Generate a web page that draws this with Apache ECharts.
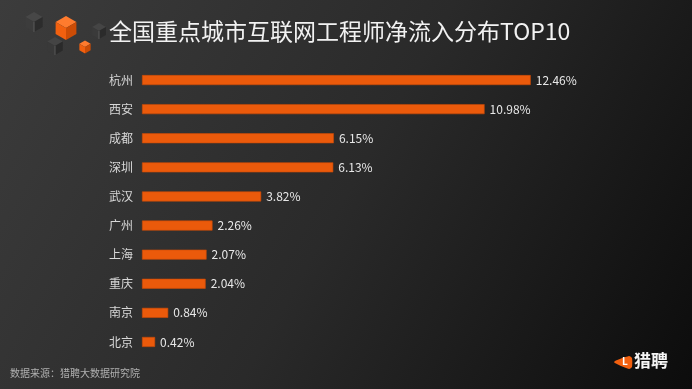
<!DOCTYPE html>
<html>
<head>
<meta charset="utf-8">
<script src="https://cdn.jsdelivr.net/npm/echarts@6/dist/echarts.min.js"></script>
<style>
html,body{margin:0;padding:0;background:#222;}
#main{width:692px;height:389px;}
</style>
</head>
<body>
<div id="main"></div>
<script>
const cities = ['杭州','西安','成都','深圳','武汉','广州','上海','重庆','南京','北京'];
const values = [12.46, 10.98, 6.15, 6.13, 3.82, 2.26, 2.07, 2.04, 0.84, 0.42];
const titleText = '全国重点城市互联网工程师净流入分布TOP10';
const sourceText = '数据来源：猎聘大数据研究院';
const logoText = '猎聘';

const FONT = '"Noto Sans CJK SC", "Noto Sans", sans-serif';

function cube(cx, cy, r, top, left, right, edge) {
  const k = 0.866 * r;
  const T = [cx, cy - r], UR = [cx + k, cy - r / 2], LR = [cx + k, cy + r / 2],
        B = [cx, cy + r], LL = [cx - k, cy + r / 2], UL = [cx - k, cy - r / 2], C = [cx, cy];
  const els = [
    {type: 'polygon', shape: {points: [T, UR, C, UL]}, style: {fill: top}},
    {type: 'polygon', shape: {points: [UL, C, B, LL]}, style: {fill: left}},
    {type: 'polygon', shape: {points: [C, UR, LR, B]}, style: {fill: right}}
  ];
  if (edge) {
    els.push({type: 'line', shape: {x1: cx, y1: cy, x2: cx, y2: cy + r}, style: {stroke: edge, lineWidth: 1}});
  }
  return els;
}

const graphics = [].concat(
  cube(34, 22, 10, '#474747', '#3c3c3c', '#2c2c2c', '#5a5a5a'),
  cube(55, 46, 9, '#444444', '#393939', '#2a2a2a', '#585858'),
  cube(99, 31, 8, '#454545', '#3a3a3a', '#2b2b2b', '#5a5a5a'),
  cube(66, 28, 12, '#ff7b2e', '#f2600f', '#cc4c06', null),
  cube(85, 47, 6.5, '#ff7b2e', '#f2600f', '#cc4c06', null),
  [
    {type: 'text', left: 109, top: 20, style: {text: titleText, fill: '#f2f2f2', font: '23px ' + FONT}},
    {type: 'text', left: 10, top: 368, style: {text: sourceText, fill: '#b0b0b0', font: '10px ' + FONT}},
    {type: 'polygon', shape: {points: [[614, 362], [629, 356], [632, 358], [632, 367], [629, 369]], smooth: 0.2},
      style: {fill: '#f2600f'}},
    {type: 'text', left: 622, top: 356, style: {text: 'L', fill: '#ffffff', font: 'bold 10px ' + FONT}},
    {type: 'text', left: 634, top: 352, style: {text: logoText, fill: '#f5f5f5', font: 'bold 17px ' + FONT}}
  ]
);

const chart = echarts.init(document.getElementById('main'));
chart.setOption({
  backgroundColor: {
    type: 'linear', x: 0, y: 0, x2: 1, y2: 1,
    colorStops: [
      {offset: 0, color: '#3c3c3c'},
      {offset: 0.5, color: '#2a2a2a'},
      {offset: 1, color: '#0c0c0c'}
    ]
  },
  animation: false,
  grid: {left: 142, top: 65.5, width: 468, height: 291, containLabel: false},
  xAxis: {
    type: 'value', min: 0, max: 15, show: false
  },
  yAxis: {
    type: 'category', data: cities, inverse: true,
    axisLine: {show: false}, axisTick: {show: false}, splitLine: {show: false},
    axisLabel: {color: '#d8d8d8', fontSize: 12, fontFamily: FONT, margin: 9}
  },
  series: [{
    type: 'bar', data: values, barWidth: 10,
    itemStyle: {color: '#eb5a0b', borderColor: '#c94a06', borderWidth: 0.6},
    label: {
      show: true, position: 'right', distance: 5,
      formatter: p => p.value.toFixed(2) + '%',
      color: '#e8e8e8', fontSize: 12, fontFamily: FONT
    }
  }],
  graphic: graphics
});
</script>
</body>
</html>
